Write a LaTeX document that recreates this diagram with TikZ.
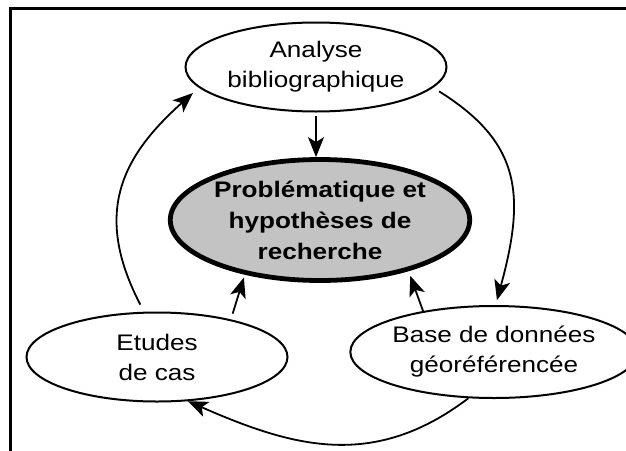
\documentclass[tikz,border=0pt]{standalone}
\usepackage{fontspec}
\setmainfont[FakeStretch=1.16]{Liberation Sans}
\usetikzlibrary{shapes.geometric,arrows.meta}
\definecolor{cengray}{RGB}{195,195,195}
\tikzset{
  oval/.style={ellipse, draw=black, line width=2pt, fill=white, inner sep=0pt, align=center,
    font=\fontsize{22.5}{30}\selectfont},
  mainoval/.style={ellipse, draw=black, line width=4.8pt, fill=cengray, inner sep=0pt, align=center,
    font=\fontsize{22.5}{31}\selectfont\bfseries},
  arr/.style={line width=1.8pt, -{Stealth[length=20pt,width=16pt,inset=5pt]}},
  framelin/.style={line width=2.4pt, line cap=rect}
}
\begin{document}
\begin{tikzpicture}[x=1pt,y=-1pt]
\useasboundingbox (0,0) rectangle (626,450);
\fill[white] (0,0) rectangle (626,450);
\coordinate (ftr) at (626,8.5);
\coordinate (ftl) at (10.5,8.5);
\coordinate (fbl) at (10.5,450);
\draw[framelin] (ftr) -- (ftl) -- (fbl);

\node[oval, minimum width=261pt, minimum height=89pt] (ana) at (316,67) {Analyse\\bibliographique};
\node[mainoval, minimum width=286pt, minimum height=121pt] (cen) at (320,220) {Problématique et\\hypothèses de\\recherche};
\node[oval, minimum width=261pt, minimum height=89pt] (etu) at (157,357) {Etudes\\de cas};
\node[oval, minimum width=257pt, minimum height=92pt] (bas) at (494,352) {Base de données\\géoréférencée};

\draw[arr, shorten <=3pt] (ana.south) -- (ana.south |- cen.north);
\draw[arr, shorten <=8pt, shorten >=8pt] (etu.106) .. controls +(-52,-100) and +(-76,68) .. (ana.190);
\draw[arr, shorten <=7pt, shorten >=5pt] (ana.350) .. controls +(88,55) and +(30,-110) .. (bas.88);
\draw[arr] (bas.241) .. controls +(-95,72) and +(105,46) .. (etu.305);
\draw[arr, shorten <=6pt, shorten >=3pt] (etu.27) -- (cen.216);
\draw[arr, shorten >=5pt] (bas.150) -- (cen.330);
\end{tikzpicture}
\end{document}
